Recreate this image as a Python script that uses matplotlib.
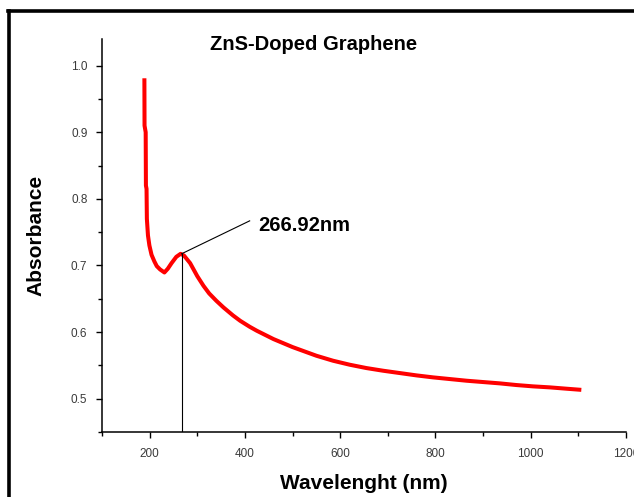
import matplotlib
matplotlib.use("Agg")
import matplotlib.pyplot as plt
from matplotlib.ticker import MultipleLocator, FormatStrFormatter
from matplotlib.lines import Line2D

wavelength = [189, 189.3, 190.5, 191.7, 192.2, 193.5, 194.2, 196.5, 199.5, 204, 210, 215,
              222, 231, 238, 246, 256, 265, 272, 285, 300, 313, 325, 340, 355, 375,
              390, 410, 425, 460, 500, 550, 585, 620, 655, 690, 725, 760, 795,
              830, 865, 900, 935, 970, 1005, 1040, 1075, 1102]
absorbance = [0.978, 0.91, 0.905, 0.90, 0.82, 0.815, 0.77, 0.745, 0.73, 0.716, 0.706, 0.699,
              0.694, 0.6895, 0.695, 0.7035, 0.713, 0.7175, 0.715, 0.7035, 0.684, 0.6695, 0.658, 0.647, 0.637, 0.625,
              0.617, 0.608, 0.602, 0.5895, 0.5775, 0.5645, 0.557, 0.551, 0.546, 0.542, 0.5385, 0.535, 0.532,
              0.5295, 0.527, 0.525, 0.523, 0.5205, 0.5185, 0.517, 0.515, 0.5135]

peak_x = 266.92
peak_y = 0.7175
peak_label = "266.92nm"
title = "ZnS-Doped Graphene"
xlabel = "Wavelenght (nm)"
ylabel = "Absorbance"

plt.rcParams['font.family'] = ['Liberation Sans', 'DejaVu Sans']

fig = plt.figure(figsize=(6.34, 4.97), dpi=100)
ax = fig.add_axes([102/634, 1-432/497, (626-102)/634, (432-39)/497])

ax.plot(wavelength, absorbance, color='#ff0000', lw=2.9, solid_joinstyle='round')

# annotation
ax.plot([peak_x, peak_x], [0.45, peak_y], color='black', lw=0.8)
ax.plot([peak_x, 410], [peak_y, 0.767], color='black', lw=0.8)
ax.text(428, 0.760, peak_label, fontsize=14.5, fontweight='bold', ha='left', va='center')

ax.set_xlim(100, 1200)
ax.set_ylim(0.45, 1.04)

ax.xaxis.set_major_locator(MultipleLocator(200))
ax.xaxis.set_minor_locator(MultipleLocator(100))
ax.yaxis.set_major_locator(MultipleLocator(0.1))
ax.yaxis.set_minor_locator(MultipleLocator(0.05))
ax.yaxis.set_major_formatter(FormatStrFormatter('%.1f'))

for s in ['top', 'right']:
    ax.spines[s].set_visible(False)
for s in ['left', 'bottom']:
    ax.spines[s].set_linewidth(1.1)

ax.tick_params(axis='both', which='major', direction='out', length=4.5, width=1.0,
               labelsize=8.5, labelcolor='#3a3a3a', pad=6)
ax.tick_params(axis='both', which='minor', direction='out', length=3, width=1.0)
ax.tick_params(axis='x', which='major', pad=7)

ax.set_xlabel(xlabel, fontsize=15, fontweight='bold', labelpad=10)
ax.set_ylabel(ylabel, fontsize=15, fontweight='bold', labelpad=18)

fig.text(314/634, 1-44/497, title, fontsize=14.5, fontweight='bold', ha='center', va='center')

# figure border (left and top)
fig.add_artist(Line2D([9/634, 9/634], [0, 1-11/497], transform=fig.transFigure, color='black', lw=2.6))
fig.add_artist(Line2D([8/634, 1], [1-11/497, 1-11/497], transform=fig.transFigure, color='black', lw=2.6))

fig.savefig('out.png', dpi=100)
